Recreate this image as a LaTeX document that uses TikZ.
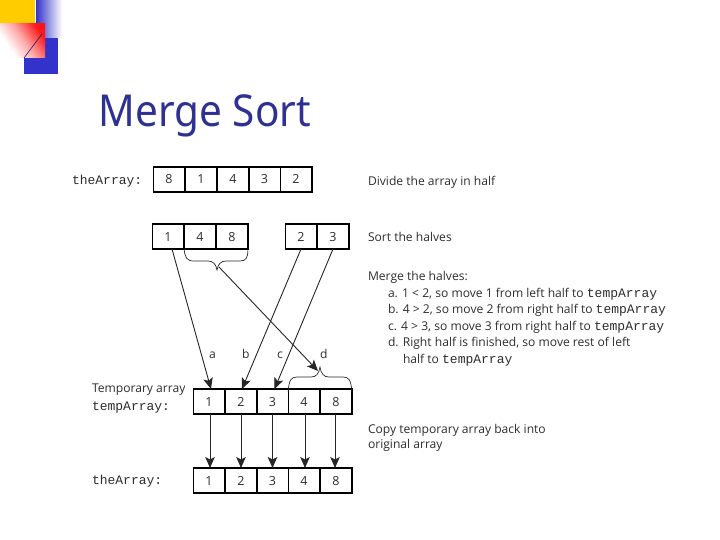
\documentclass[tikz,border=0pt]{standalone}
\usepackage{fontspec}
\setmainfont{Open Sans}
\setmonofont{Liberation Mono}
\newfontfamily\titlefont{Noto Sans}
\usetikzlibrary{arrows.meta}
\definecolor{titleblue}{RGB}{46,49,146}
\definecolor{decoblue}{RGB}{51,51,204}
\definecolor{decoyellow}{RGB}{255,204,0}
\definecolor{inktext}{RGB}{45,45,45}
\pgfdeclareverticalshading{fadered}{100bp}{color(0bp)=(white); color(32bp)=(white); color(52bp)=(red!35!white); color(74bp)=(red!90!white); color(100bp)=(red)}
\tikzset{
  cell/.style={draw=black,line width=1.2pt,minimum width=31.8pt,minimum height=25pt,inner sep=0pt,outer sep=0pt,text=inktext,text height=9pt,text depth=0pt,font=\fontsize{12.5}{14}\selectfont},
  note/.style={anchor=base west,inner sep=0pt,outer sep=0pt,text=inktext,font=\fontsize{12.1}{14}\selectfont},
  code/.style={anchor=base west,inner sep=0pt,outer sep=0pt,text=inktext,font=\ttfamily\fontsize{13}{14}\selectfont},
  link/.style={draw=black!85,line width=0.9pt,-{Stealth[length=11pt,width=9.5pt,inset=2.5pt]}},
  bracket/.style={draw=black!85,line width=0.7pt},
}
\newcommand{\tc}[1]{{\ttfamily\fontsize{13}{14}\selectfont #1}}
\begin{document}
\begin{tikzpicture}[x=1pt,y=-1pt]
\useasboundingbox (0,0) rectangle (720,540);
% corner decoration
\fill[decoyellow] (0,0) rectangle (35,24);
\shade[left color=decoblue,right color=white] (36,0) rectangle (62,38);
\fill[decoblue] (24,38) rectangle (58,74);
\shade[shading=fadered,shading angle=-55] (0,24) rectangle (45,58);
\draw[draw=titleblue!70!black,line width=0.6pt] (24,58) -- (42,34);
% title
\node[anchor=base west,inner sep=0pt,text=titleblue,transform shape,xscale=0.92,font=\titlefont\fontsize{44}{48}\selectfont] (title) at (98.5,127) {Merge Sort};
% first array
\node[code] (lblA) at (72,185) {theArray:};
\foreach \n/\x/\v in {1/169/8,2/201/1,3/233/4,4/264.5/3,5/296/2}
  \node[cell] (a\n) at (\x,179.5) {\v};
% halves
\foreach \n/\x/\v in {1/168/1,2/200/4,3/232/8}
  \node[cell] (l\n) at (\x,236.5) {\v};
\foreach \n/\x/\v in {1/301/2,2/333/3}
  \node[cell] (r\n) at (\x,236.5) {\v};
% temp array
\node[note] (lblT) at (92,392) {Temporary array};
\node[code] (lblTc) at (92,410) {tempArray:};
\foreach \n/\x/\v in {1/209/1,2/241/2,3/272.5/3,4/304/4,5/336/8}
  \node[cell] (t\n) at (\x,401.5) {\v};
% final array
\node[code] (lblB) at (92,484) {theArray:};
\foreach \n/\x/\v in {1/209/1,2/241/2,3/272.5/3,4/304/4,5/336/8}
  \node[cell] (b\n) at (\x,480.5) {\v};
% braces
\coordinate (lowtip) at (217,270);
\coordinate (hightip) at (320,367);
\draw[bracket] (l2.south west) .. controls (185,258) and (187,261) .. (194,261) -- (208,261) .. controls (213,261) and (216,264) .. (lowtip) .. controls (218,264) and (221,261) .. (226,261) -- (240,261) .. controls (246,261) and (248,258) .. (l3.south east);
\draw[bracket] ([yshift=-3pt]t4.north west) .. controls (289,380) and (291,377) .. (297,377) -- (311,377) .. controls (316,377) and (319,374) .. (hightip) .. controls (321,374) and (324,377) .. (329,377) -- (343,377) .. controls (349,377) and (351,380) .. ([yshift=-3pt]t5.north east);
% merge arrows
\draw[link] ([xshift=4pt]l1.south) -- ([xshift=2pt]t1.north);
\draw[link] (r1.south) -- ([xshift=1pt]t2.north);
\draw[link] (r2.south) -- ([xshift=2pt]t3.north);
\draw[link] ([xshift=2pt,yshift=3pt]lowtip) -- ([xshift=-2pt,yshift=-4pt]hightip);
% copy arrows
\draw[link] ([xshift=1pt]t1.south) -- ([xshift=1pt]b1.north);
\draw[link] (t2.south) -- (b2.north);
\draw[link] (t3.south) -- (b3.north);
\draw[link] ([xshift=1pt]t4.south) -- ([xshift=1pt]b4.north);
\draw[link] ([xshift=-1pt]t5.south) -- ([xshift=-1pt]b5.north);
% arrow letters
\node[note] (la) at (209,358) {a};
\node[note] (lb) at (242,358) {b};
\node[note] (lc) at (277,358) {c};
\node[note] (ld) at (320,358) {d};
% right notes
\node[note] (n1) at (368,186) {Divide the array in half};
\node[note] (n2) at (368,241) {Sort the halves};
\node[note] (n3) at (368,280) {Merge the halves:};
\node[note] (n4) at (388,297) {a. 1 < 2, so move 1 from left half to \tc{tempArray}};
\node[note] (n5) at (388,313) {b. 4 > 2, so move 2 from right half to \tc{tempArray}};
\node[note] (n6) at (388,330) {c. 4 > 3, so move 3 from right half to \tc{tempArray}};
\node[note] (n7) at (388,346) {d. Right half is finished, so move rest of left};
\node[note] (n8) at (403,363) {half to \tc{tempArray}};
\node[note] (n9) at (368,433) {Copy temporary array back into};
\node[note] (n10) at (368,448) {original array};
\end{tikzpicture}
\end{document}
